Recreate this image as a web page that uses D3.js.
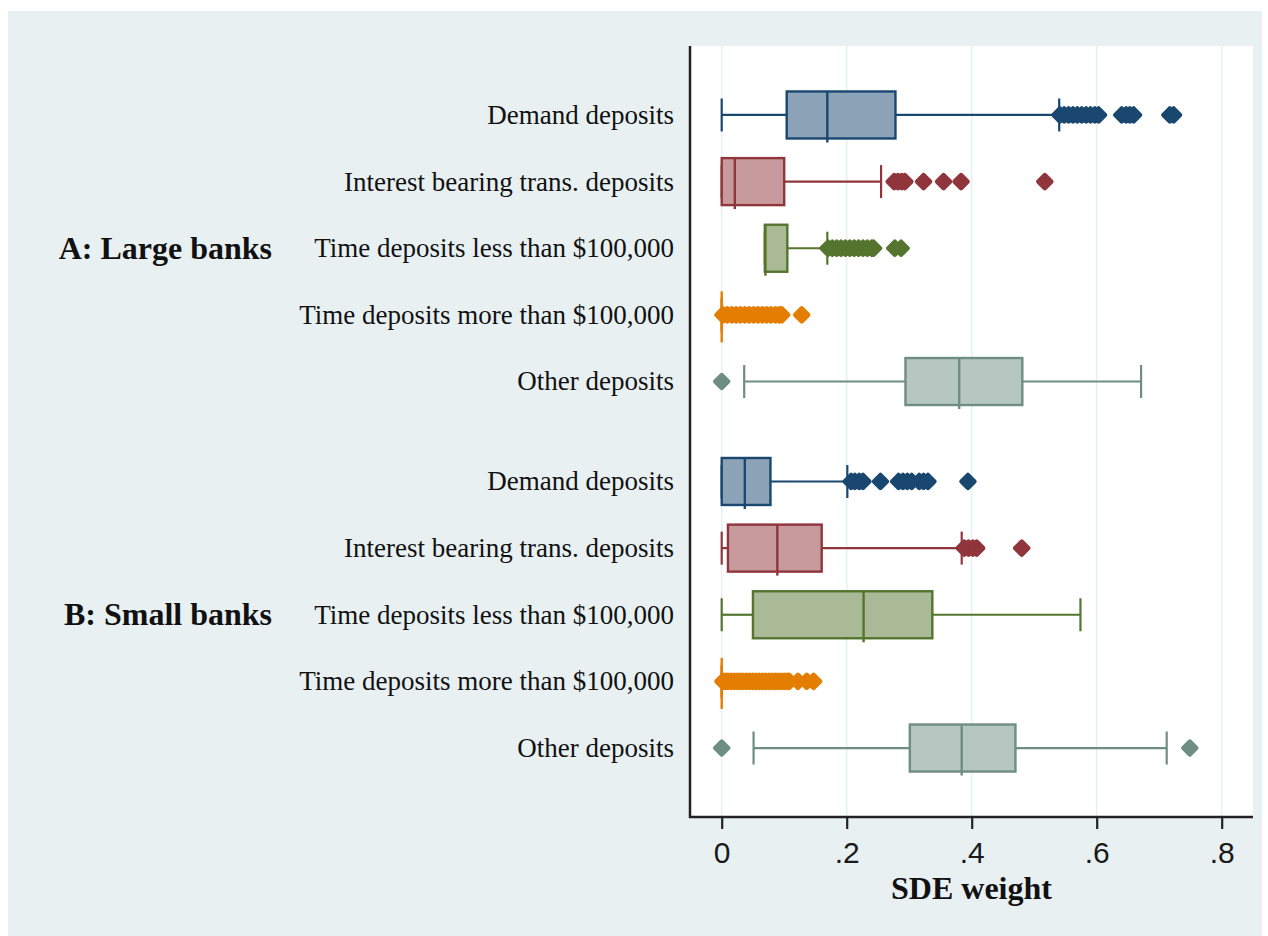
<!DOCTYPE html>
<html>
<head>
<meta charset="utf-8">
<script src="https://cdn.jsdelivr.net/npm/d3@7"></script>
<style>
  html, body { margin: 0; padding: 0; background: #ffffff; }
  svg { display: block; }
</style>
</head>
<body>
<svg id="chart" width="1268" height="936"></svg>
<script>
// ---- data ----------------------------------------------------------------
const groups = ["A: Large banks", "B: Small banks"];
const categories = [
  "Demand deposits",
  "Interest bearing trans. deposits",
  "Time deposits less than $100,000",
  "Time deposits more than $100,000",
  "Other deposits"
];
const xTicks = [0, 0.2, 0.4, 0.6, 0.8];
const xTickLabels = ["0", ".2", ".4", ".6", ".8"];
const xTitle = "SDE weight";

// box summaries per category: [lower adjacent, q1, median, q3, upper adjacent]
const largeBoxes = [
  [0.000, 0.104, 0.169, 0.278, 0.540],
  [0.000, 0.000, 0.021, 0.100, 0.255],
  [0.069, 0.069, 0.070, 0.105, 0.169],
  [0.000, 0.000, 0.000, 0.000, 0.000],
  [0.036, 0.294, 0.380, 0.481, 0.671]
];
const smallBoxes = [
  [0.000, 0.000, 0.037, 0.078, 0.201],
  [0.000, 0.010, 0.089, 0.160, 0.384],
  [0.000, 0.050, 0.227, 0.337, 0.574],
  [0.000, 0.000, 0.000, 0.000, 0.000],
  [0.051, 0.301, 0.384, 0.470, 0.712]
];

// outside values per category
const largeOutliers = [
  [0.541, 0.548, 0.555, 0.562, 0.569, 0.576, 0.583, 0.590, 0.597, 0.603,
   0.640, 0.647, 0.653, 0.659, 0.717, 0.723],
  [0.276, 0.282, 0.288, 0.293, 0.323, 0.355, 0.383, 0.517],
  [0.170, 0.177, 0.184, 0.191, 0.198, 0.205, 0.212, 0.219, 0.226, 0.233,
   0.240, 0.243, 0.277, 0.287],
  [0.002, 0.009, 0.016, 0.023, 0.030, 0.037, 0.044, 0.051, 0.058, 0.065,
   0.072, 0.079, 0.086, 0.092, 0.096, 0.128],
  [0.000]
];
const smallOutliers = [
  [0.207, 0.213, 0.220, 0.226, 0.254, 0.283, 0.290, 0.297, 0.304, 0.316,
   0.323, 0.330, 0.394],
  [0.388, 0.395, 0.402, 0.408, 0.480],
  [],
  [0.002, 0.006, 0.010, 0.015, 0.020, 0.025, 0.030, 0.035, 0.040, 0.045,
   0.050, 0.055, 0.060, 0.065, 0.070, 0.075, 0.080, 0.085, 0.090, 0.095,
   0.100, 0.105, 0.108, 0.122, 0.136, 0.147],
  [0.000, 0.749]
];

// line / fill colours per category (Stata s2color palette)
const lineColors = ["#1a476f", "#90353b", "#55752f", "#e37e00", "#6e8e84"];
const fillColors = ["#8ca3b7", "#c79a9d", "#aaba97", "#f1bf80", "#b6c6c1"];

// ---- layout --------------------------------------------------------------
const svg = d3.select("#chart");
const W = 1268, H = 936;
const plot = { left: 690, right: 1253, top: 46, bottom: 817 };

const x = d3.scaleLinear().domain([0, 0.8]).range([721.7, 1221.7]);
// slot index: group A rows 0..4, group B rows 5.5..9.5
const y = d3.scaleLinear().domain([-1.035, 10.535]).range([plot.top, plot.bottom]);
const slot = (g, i) => g * 5.5 + i;

const boxH = 47, capH = 33, r = 6.5;

// outer graph region
svg.append("rect").attr("x", 0).attr("y", 0).attr("width", W).attr("height", H).attr("fill", "#ffffff");
svg.append("rect").attr("x", 8).attr("y", 11).attr("width", 1254).attr("height", 925).attr("fill", "#e8f0f2");

// plot region
svg.append("rect")
  .attr("x", plot.left).attr("y", plot.top)
  .attr("width", plot.right - plot.left).attr("height", plot.bottom - plot.top)
  .attr("fill", "#ffffff");

// vertical grid lines
svg.append("g").selectAll("line").data(xTicks).join("line")
  .attr("x1", d => x(d)).attr("x2", d => x(d))
  .attr("y1", plot.top).attr("y2", plot.bottom)
  .attr("stroke", "#e6eff2").attr("stroke-width", 1.5);

// ---- boxes ---------------------------------------------------------------
const rows = [];
[largeBoxes, smallBoxes].forEach((boxes, g) => {
  const outs = g === 0 ? largeOutliers : smallOutliers;
  boxes.forEach((b, i) => rows.push({ g, i, b, outs: outs[i] }));
});

const marks = svg.append("g");
rows.forEach(row => {
  const cy = y(slot(row.g, row.i));
  const [lo, q1, med, q3, hi] = row.b;
  const lc = lineColors[row.i], fc = fillColors[row.i];
  const gRow = marks.append("g");

  // whiskers
  gRow.append("line").attr("x1", x(lo)).attr("x2", x(q1)).attr("y1", cy).attr("y2", cy)
    .attr("stroke", lc).attr("stroke-width", 2.2);
  gRow.append("line").attr("x1", x(q3)).attr("x2", x(hi)).attr("y1", cy).attr("y2", cy)
    .attr("stroke", lc).attr("stroke-width", 2.2);
  // whisker caps
  [lo, hi].forEach(v => {
    gRow.append("line").attr("x1", x(v)).attr("x2", x(v))
      .attr("y1", cy - capH / 2).attr("y2", cy + capH / 2)
      .attr("stroke", lc).attr("stroke-width", 2.2);
  });
  // box
  if (q3 > q1) {
    gRow.append("rect")
      .attr("x", x(q1)).attr("y", cy - boxH / 2)
      .attr("width", x(q3) - x(q1)).attr("height", boxH)
      .attr("fill", fc).attr("stroke", lc).attr("stroke-width", 2.4);
  }
  // median
  gRow.append("line").attr("x1", x(med)).attr("x2", x(med))
    .attr("y1", cy - boxH / 2).attr("y2", cy + boxH / 2 + 4)
    .attr("stroke", lc).attr("stroke-width", 2.4);

  // outside values as rounded diamonds
  gRow.append("g").selectAll("path").data(row.outs).join("path")
    .attr("d", v => {
      const cx = x(v);
      return `M${cx},${cy - r}L${cx + r},${cy}L${cx},${cy + r}L${cx - r},${cy}Z`;
    })
    .attr("fill", lc).attr("stroke", lc)
    .attr("stroke-width", 4.5).attr("stroke-linejoin", "round");
});

// ---- axes ----------------------------------------------------------------
// left axis line
svg.append("line")
  .attr("x1", plot.left).attr("x2", plot.left)
  .attr("y1", plot.top).attr("y2", plot.bottom + 1)
  .attr("stroke", "#222222").attr("stroke-width", 2.5);
// bottom axis line
svg.append("line")
  .attr("x1", plot.left - 1).attr("x2", plot.right)
  .attr("y1", plot.bottom).attr("y2", plot.bottom)
  .attr("stroke", "#222222").attr("stroke-width", 2.5);

const xAxis = d3.axisBottom(x)
  .tickValues(xTicks)
  .tickFormat((d, i) => xTickLabels[i])
  .tickSize(12).tickSizeOuter(0).tickPadding(13);

const gx = svg.append("g").attr("transform", `translate(0,${plot.bottom})`).call(xAxis);
gx.select(".domain").remove();
gx.selectAll(".tick line").attr("stroke", "#222222").attr("stroke-width", 2.2);
gx.selectAll(".tick text")
  .attr("font-family", "'Liberation Sans', Arial, sans-serif")
  .attr("font-size", 30).attr("fill", "#1a1a1a");

svg.append("text")
  .attr("x", (plot.left + plot.right) / 2).attr("y", 899)
  .attr("text-anchor", "middle")
  .attr("font-family", "'Liberation Serif', 'Times New Roman', serif")
  .attr("font-weight", "bold").attr("font-size", 32).attr("fill", "#111111")
  .text(xTitle);

// ---- category and group labels -------------------------------------------
const labels = svg.append("g")
  .attr("font-family", "'Liberation Serif', 'Times New Roman', serif")
  .attr("fill", "#111111");

rows.forEach(row => {
  labels.append("text")
    .attr("x", 674).attr("y", y(slot(row.g, row.i)))
    .attr("dy", "0.33em")
    .attr("text-anchor", "end").attr("font-size", 27)
    .text(categories[row.i]);
});

groups.forEach((name, g) => {
  labels.append("text")
    .attr("x", 272).attr("y", y(slot(g, 2)))
    .attr("dy", "0.33em")
    .attr("text-anchor", "end").attr("font-size", 32).attr("font-weight", "bold")
    .text(name);
});
</script>
</body>
</html>
